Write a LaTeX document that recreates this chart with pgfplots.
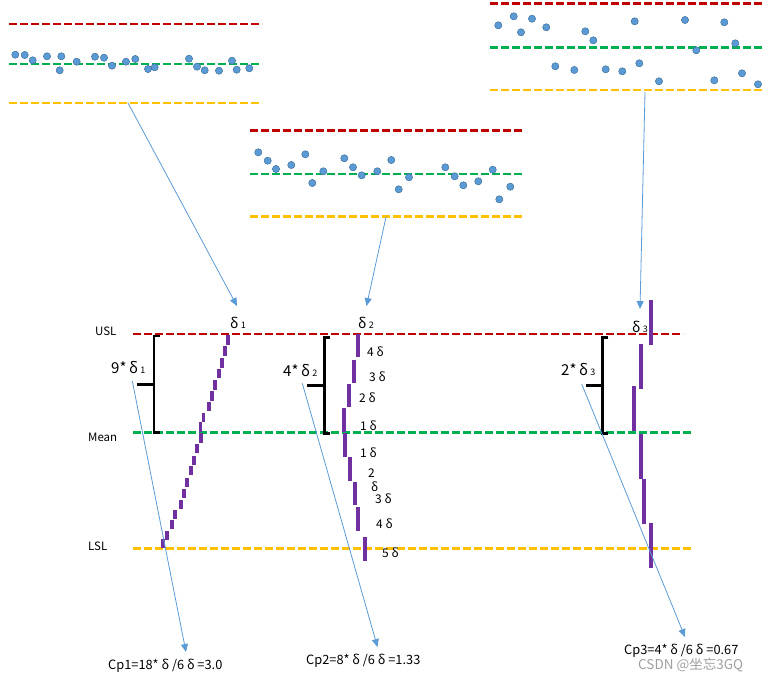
\documentclass[border=0pt]{standalone}
\usepackage{fontspec}
\setmainfont{Noto Sans CJK SC}
\usepackage{pgfplots}
\pgfplotsset{compat=1.18}
\usetikzlibrary{arrows.meta}
\definecolor{usl}{HTML}{C00000}
\definecolor{mean}{HTML}{00B050}
\definecolor{lsl}{HTML}{FFC000}
\definecolor{bar}{HTML}{7030A0}
\definecolor{dot}{HTML}{5B9BD5}
\definecolor{dotedge}{HTML}{41719C}
\definecolor{arr}{HTML}{5B9BD5}
\begin{document}
\begin{tikzpicture}
\useasboundingbox (0,0) rectangle (765pt,681pt);
\begin{axis}[
    at={(0,0)}, anchor=south west,
    scale only axis, width=765pt, height=681pt,
    xmin=0, xmax=765, ymin=0, ymax=681, y dir=reverse,
    hide axis, clip=false,
    unbounded coords=jump,
    dline/.style={line width=2.5pt, dash pattern=on 8pt off 3pt},
    seg/.style={bar, line width=4pt},
    pt/.style={only marks, mark=*, mark size=3.6pt, mark options={fill=dot, draw=dotedge, line width=0.5pt}},
    pointer/.style={arr, line width=0.8pt, -{Triangle[width=7pt,length=8pt]}},
    brace/.style={black, line width=2.8pt},
]
% --- top-left panel
\addplot[usl, dline] coordinates {(9,24) (262,24)};
\addplot[mean, dline] coordinates {(9,64) (262,64)};
\addplot[lsl, dline] coordinates {(9,103) (262,103)};
\addplot[pt] coordinates {
 (15.3,54.7) (24.7,55) (32.7,60.3) (47,56.3) (61.3,56.3) (59.7,70.3) (76.7,61.7)
 (95,56.7) (104,57.7) (112,65.7) (126,61.7) (135.3,59) (148,69) (154.7,67.3)
 (189,58.7) (197,66.7) (204.7,70.3) (219,70.7) (232,60.7) (236.7,69.7) (249.3,68.3)};
% --- middle panel
\addplot[usl, dline] coordinates {(250,130.3) (523,130.3)};
\addplot[mean, dline] coordinates {(250,174) (523,174)};
\addplot[lsl, dline] coordinates {(250,216.5) (523,216.5)};
\addplot[pt] coordinates {
 (258.3,152.3) (267.7,160.7) (276,169) (291.3,165) (305.3,154.3) (312.3,183) (323.3,171.3)
 (344.3,158.3) (353,167.3) (361.7,175.3) (377.3,171.3) (391.3,160) (398.7,189.3) (409,177.3)
 (445.3,167.3) (454.7,176.3) (463.3,185.3) (478.3,181.3) (492.7,169.7) (499.3,199.3) (510.3,186.7)};
% --- top-right panel
\addplot[usl, dline] coordinates {(490,3.3) (765,3.3)};
\addplot[mean, dline] coordinates {(490,47.3) (765,47.3)};
\addplot[lsl, dline] coordinates {(490,90) (765,90)};
\addplot[pt] coordinates {
 (498.3,25.3) (513.7,16.3) (521,32.3) (532,18.7) (546.3,27.3) (555.3,66.3) (574.3,70)
 (585.3,31.3) (593.3,40.3) (605.7,69.3) (622.3,71.3) (634.7,21.3) (639.3,63.3) (659,81.3)
 (685,20) (696.3,50.3) (714.3,80.3) (724.3,22.3) (735.3,43.3) (742,73.3) (758,84.3)};
% --- main limits
\addplot[usl, dline] coordinates {(133,334) (683,334)};
\addplot[mean, dline] coordinates {(133,432.3) (692,432.3)};
\addplot[lsl, dline] coordinates {(133,548.3) (692,548.3)};
% --- process 1: staircase of short bars
\addplot[bar, line width=3.6pt] coordinates {
 (228,335) (228,345) (nan,nan)
 (225,346) (225,355.5) (nan,nan)
 (222,358) (222,367.5) (nan,nan)
 (219,368.5) (219,377.5) (nan,nan)
 (215,380) (215,389.5) (nan,nan)
 (212,391) (212,400.5) (nan,nan)
 (209,402) (209,411) (nan,nan)
 (203.3,412.5) (203.3,421.7) (nan,nan)
 (200.3,422.3) (200.3,431.7) (nan,nan)
 (201,432.5) (201,443.3) (nan,nan)
 (197,444) (197,453.3) (nan,nan)
 (194,456) (194,465) (nan,nan)
 (191,466) (191,475.3) (nan,nan)
 (187,478) (187,487.3) (nan,nan)
 (184,489) (184,498.3) (nan,nan)
 (181,500) (181,509.3) (nan,nan)
 (175,510) (175,519.3) (nan,nan)
 (172,520) (172,529.3) (nan,nan)
 (167,530.7) (167,540) (nan,nan)
 (163,539) (163,548.3)};
% --- process 2
\addplot[seg] coordinates {
 (357.7,334) (357.7,357.3) (nan,nan)
 (354,360) (354,383.3) (nan,nan)
 (349,384.3) (349,407.3) (nan,nan)
 (344,408.3) (344,431.7) (nan,nan)
 (345,433.3) (345,456.7) (nan,nan)
 (350,457.3) (350,480.7) (nan,nan)
 (354.7,481.7) (354.7,505) (nan,nan)
 (358,507.3) (358,530.7) (nan,nan)
 (365,537.3) (365,560.7)};
% --- process 3
\addplot[seg] coordinates {
 (650.7,300) (650.7,345) (nan,nan)
 (640.7,344) (640.7,389.3) (nan,nan)
 (634,386) (634,431) (nan,nan)
 (640.7,434) (640.7,479) (nan,nan)
 (644,479) (644,524) (nan,nan)
 (650.7,523.3) (650.7,568.3)};
% --- brackets
\addplot[brace] coordinates {(160,336) (154,336) (154,432.3) (160,432.3)};
\addplot[brace] coordinates {(136.7,384.3) (154,384.3)};
\addplot[brace] coordinates {(330,337.3) (324.3,337.3) (324.3,433.3) (330,433.3)};
\addplot[brace] coordinates {(306.7,385.7) (324.3,385.7)};
\addplot[brace] coordinates {(608.3,337.7) (602.7,337.7) (602.7,433.3) (608.3,433.3)};
\addplot[brace] coordinates {(585.7,385.7) (602.7,385.7)};
% --- pointers
\addplot[pointer] coordinates {(128,103) (237,306)};
\addplot[pointer] coordinates {(386,217) (366.5,306)};
\addplot[pointer] coordinates {(645,92) (640,309)};
\addplot[pointer] coordinates {(132.3,381) (186,652)};
\addplot[pointer] coordinates {(302.3,383.3) (377.5,647)};
\addplot[pointer] coordinates {(581.7,384) (685,637)};
% --- labels
\begin{scope}[every node/.style={anchor=west, inner sep=0pt, font=\fontsize{11.5}{11.5}\selectfont}]
\node at (axis cs:95,331) {USL};
\node at (axis cs:88,437.5) {Mean};
\node at (axis cs:88,546) {LSL};
\end{scope}
\node[anchor=west, font=\fontsize{14}{14}\selectfont, inner sep=0pt] at (axis cs:230,323) {δ\,{\fontsize{9}{9}\selectfont 1}};
\node[anchor=west, font=\fontsize{14}{14}\selectfont, inner sep=0pt] at (axis cs:358,323) {δ\,{\fontsize{9}{9}\selectfont 2}};
\node[anchor=west, font=\fontsize{14}{14}\selectfont, inner sep=0pt] at (axis cs:632,327) {δ\,{\fontsize{9}{9}\selectfont 3}};
\node[anchor=west, font=\fontsize{15}{15}\selectfont, inner sep=0pt] at (axis cs:111,368) {9*\,δ\,{\fontsize{9}{9}\selectfont 1}};
\node[anchor=west, font=\fontsize{15}{15}\selectfont, inner sep=0pt] at (axis cs:283,370.5) {4*\,δ\,{\fontsize{9}{9}\selectfont 2}};
\node[anchor=west, font=\fontsize{15}{15}\selectfont, inner sep=0pt] at (axis cs:561,370) {2*\,δ\,{\fontsize{9}{9}\selectfont 3}};
\begin{scope}[every node/.style={anchor=west, inner sep=0pt, font=\fontsize{12}{12}\selectfont}]
\node at (axis cs:367,352) {4 δ};
\node at (axis cs:369,377) {3 δ};
\node at (axis cs:359,398) {2 δ};
\node at (axis cs:360,426) {1 δ};
\node at (axis cs:360,453) {1 δ};
\node at (axis cs:368,473) {2};
\node at (axis cs:371,487) {δ};
\node at (axis cs:375,499) {3 δ};
\node at (axis cs:376,524) {4 δ};
\node at (axis cs:382,553) {5 δ};
\end{scope}
\begin{scope}[every node/.style={anchor=west, inner sep=0pt, font=\fontsize{12.8}{12.8}\selectfont}]
\node at (axis cs:108,666) {Cp1=18* δ /6 δ =3.0};
\node at (axis cs:306,661) {Cp2=8* δ /6 δ =1.33};
\node at (axis cs:624,651) {Cp3=4* δ /6 δ =0.67};
\node[text=gray!75, font=\fontsize{13.5}{13.5}\selectfont] at (axis cs:638,665) {CSDN @坐忘3GQ};
\end{scope}
\end{axis}
\end{tikzpicture}
\end{document}
